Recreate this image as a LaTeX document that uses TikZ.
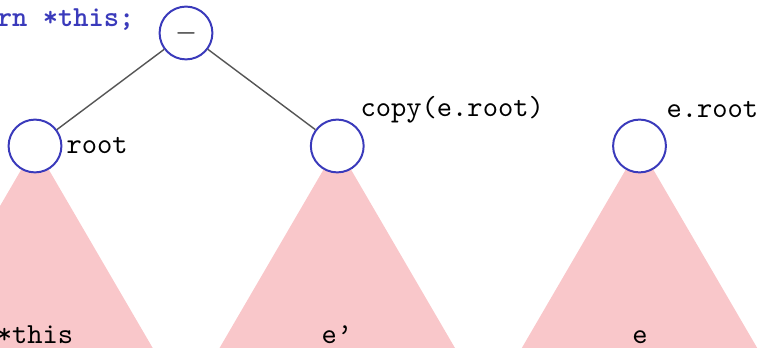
\documentclass[tikz,border=0pt]{standalone}
\usetikzlibrary{positioning,backgrounds}
\definecolor{nodeblue}{RGB}{58,58,187}
\definecolor{treepink}{RGB}{249,199,202}
\definecolor{edgegray}{RGB}{85,85,85}
\begin{document}
\begin{tikzpicture}[
  x=0.354pt, y=-0.354pt,
  node distance=107pt, on grid,
  treenode/.style={draw=nodeblue,circle,line width=.7pt,fill=white,minimum size=18.7pt,inner sep=0pt},
  subtree/.style={fill=treepink,draw=none},
  codetext/.style={font=\fontsize{10.3}{12}\selectfont\ttfamily,inner sep=0pt},
  edge/.style={edgegray,line width=.5pt}
]
  \useasboundingbox (0,0) rectangle (761,348);

  \node[treenode] (op) at (186,33) {$-$};
  \node[treenode] (lhs) at (35,146) {};
  \node[treenode,right=of lhs] (cpy) {};
  \node[treenode,right=of cpy] (orig) {};

  \draw[edge] (op) -- (lhs);
  \draw[edge] (op) -- (cpy);

  % subtrees hang behind the circles
  \begin{scope}[on background layer]
    \foreach \t in {lhs,cpy,orig}
      \fill[subtree] (\t.center) -- ++(-148,254) -- ++(296,0) -- cycle;
  \end{scope}

  \node[codetext,anchor=base east,text=nodeblue,font=\fontsize{10.3}{12}\selectfont\ttfamily\bfseries] (ret) at (135,27) {return *this;};
  \node[codetext,anchor=base west] (rootlbl) at (66,154) {root};
  \node[codetext,anchor=base west] (cpylbl) at (360,117) {copy(e.root)};
  \node[codetext,anchor=base west] (origlbl) at (666,118) {e.root};

  \node[codetext,anchor=base] (thislbl) at (35,344) {*this};
  \node[codetext,anchor=base] (eplbl) at (337,344) {e’};
  \node[codetext,anchor=base] (elbl) at (640,344) {e};
\end{tikzpicture}
\end{document}
